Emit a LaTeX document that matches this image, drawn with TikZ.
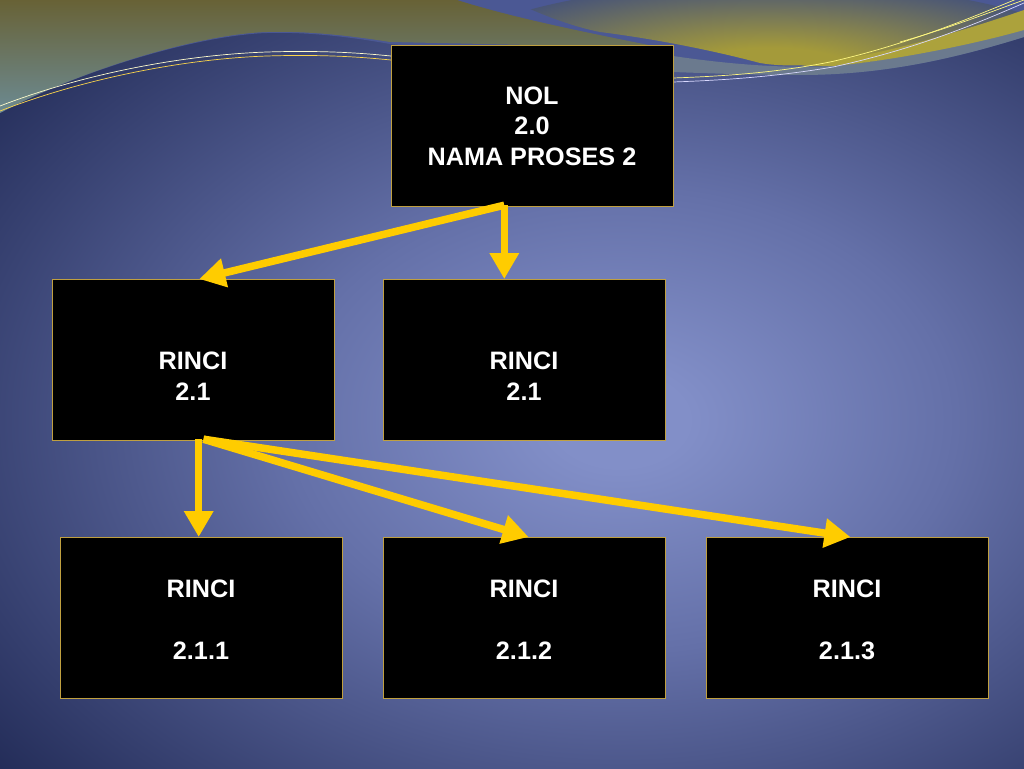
\documentclass[tikz,border=0pt]{standalone}
\usepackage{fontspec}
\setmainfont{Liberation Sans}
\usetikzlibrary{arrows.meta,calc}
\definecolor{bgin}{HTML}{828FC8}
\definecolor{bgmid}{HTML}{6470A8}
\definecolor{bgout}{HTML}{1E2752}
\definecolor{olivetop}{HTML}{686236}
\definecolor{olivebot}{HTML}{6C8A92}
\definecolor{otrout}{HTML}{4A5676}
\definecolor{otrin}{HTML}{A49A3A}
\definecolor{bandblue}{HTML}{4B5894}
\definecolor{greyband}{HTML}{6B7A8E}
\definecolor{ribbon}{HTML}{ACA23C}
\definecolor{arrowyel}{HTML}{FFCC00}
\definecolor{boxline}{HTML}{C0A040}
\pgfdeclareradialshading{bgrad}{\pgfpoint{0bp}{0bp}}{color(0bp)=(bgin); color(2bp)=(bgin); color(10bp)=(bgmid); color(25bp)=(bgout); color(50bp)=(bgout)}
\pgfdeclareradialshading{olrad}{\pgfpoint{0bp}{0bp}}{color(0bp)=(otrin); color(6bp)=(otrin); color(25bp)=(otrout); color(50bp)=(otrout)}
\tikzset{
  procbox/.style={draw=boxline, line width=1.2pt, fill=black, minimum width=282pt, minimum height=161pt, inner sep=0pt, anchor=north west},
  boxtext/.style={text=white, font=\bfseries\fontsize{25.2}{30.7}\selectfont, align=center, anchor=north, inner sep=0pt},
  flow/.style={draw=arrowyel, line width=7.5pt, -{Triangle[length=26pt,width=28pt]}},
  thinline/.style={line width=0.7pt}
}
\begin{document}
\begin{tikzpicture}[x=1pt,y=-1pt]
\useasboundingbox (0,0) rectangle (1024,768);
\begin{scope}
\clip (0,0) rectangle (1024,768);
% background
\fill[bgout] (0,0) rectangle (1024,768);
\shade[shading=bgrad] (620,420) ellipse [x radius=840, y radius=580];
% top blue layer
\fill[bandblue] (0,0) -- (1024,0) -- (1024,37) .. controls (950,60) and (880,75) .. (800,75) .. controls (750,75) and (700,72) .. (673,72) -- (390,44) .. controls (340,35) and (300,32) .. (267,33) .. controls (200,35) and (80,70) .. (0,113) -- cycle;
% olive top-left
\shade[top color=olivetop, bottom color=olivebot] (0,0) -- (457,0) .. controls (520,20) and (600,35) .. (673,50) -- (673,48) -- (390,42) .. controls (340,34) and (300,31) .. (267,32) .. controls (200,34) and (80,70) .. (0,113) -- cycle;
% top-right olive region
\begin{scope}
\clip (510,0) -- (1024,0) -- (1024,12) .. controls (950,40) and (880,62) .. (807,65) .. controls (785,66) and (772,65) .. (760,63) .. controls (700,47) and (640,37) .. (600,32) .. controls (570,26) and (540,14) .. (510,0) -- cycle;
\shade[shading=olrad] (770,68) ellipse [x radius=330, y radius=85];
\end{scope}
% grey band
\fill[greyband] (673,56) .. controls (720,63) and (780,69) .. (833,66) .. controls (900,60) and (970,42) .. (1024,22) -- (1024,37) .. controls (950,60) and (880,75) .. (800,75) .. controls (750,75) and (700,73) .. (673,72) -- cycle;
% yellow ribbon
\fill[ribbon] (800,66) .. controls (880,56) and (960,32) .. (1024,10) -- (1024,30) .. controls (960,48) and (880,62) .. (833,66) -- cycle;
% thin lines left
\draw[thinline, draw=white!80!yellow] (0,106) .. controls (80,75) and (180,55) .. (267,52) .. controls (330,50) and (370,54) .. (391,56);
\draw[thinline, draw=yellow!60!orange!70!white] (0,111) .. controls (80,80) and (180,59) .. (267,56) .. controls (330,54) and (370,58) .. (391,60);
% thin lines right
\draw[thinline, draw=white!85!blue] (673,82) .. controls (730,80) and (780,76) .. (833,67) .. controls (920,48) and (980,22) .. (1024,3);
\draw[thinline, draw=yellow!50!white] (673,78) .. controls (730,76) and (780,72) .. (830,62) .. controls (910,44) and (975,16) .. (1024,-4);
\draw[thinline, draw=yellow!50!white] (900,42) .. controls (950,28) and (990,12) .. (1024,0);
\end{scope}
% boxes
\node[procbox] (nol) at (391,45) {};
\node[procbox] (r2a) at (52,279) {};
\node[procbox] (r2b) at (383,279) {};
\node[procbox] (r3a) at (60,537) {};
\node[procbox] (r3b) at (383,537) {};
\node[procbox] (r3c) at (706,537) {};
% texts
\node[boxtext] (tnol) at (532,86.5) {NOL\\2.0\\NAMA PROSES 2};
\node[boxtext] (tr2a) at (193,351.5) {RINCI\\2.1};
\node[boxtext] (tr2b) at (524,351.5) {RINCI\\2.1};
\node[boxtext] (tr3a) at (201,579.8) {RINCI\\[30.7pt]2.1.1};
\node[boxtext] (tr3b) at (524,579.8) {RINCI\\[30.7pt]2.1.2};
\node[boxtext] (tr3c) at (847,579.8) {RINCI\\[30.7pt]2.1.3};
% connector anchors
\coordinate (s1) at ($(nol.south west)!0.4!(nol.south east)+(0,-2)$);
\coordinate (s2) at ($(r2a.south west)!0.518!(r2a.south east)+(0,-2)$);
\coordinate (s3) at ($(r2a.south west)!0.535!(r2a.south east)+(0,-2)$);
% arrows
\draw[flow] (s1) -- ($(r2a.north west)!0.52!(r2a.north east)$);
\draw[flow] (s1) -- (s1 |- r2b.north);
\draw[flow] (s2) -- (s2 |- r3a.north);
\draw[flow] (s3) -- ($(r3b.north west)!0.514!(r3b.north east)$);
\draw[flow] (s3) -- ($(r3c.north west)!0.51!(r3c.north east)$);
\end{tikzpicture}
\end{document}
